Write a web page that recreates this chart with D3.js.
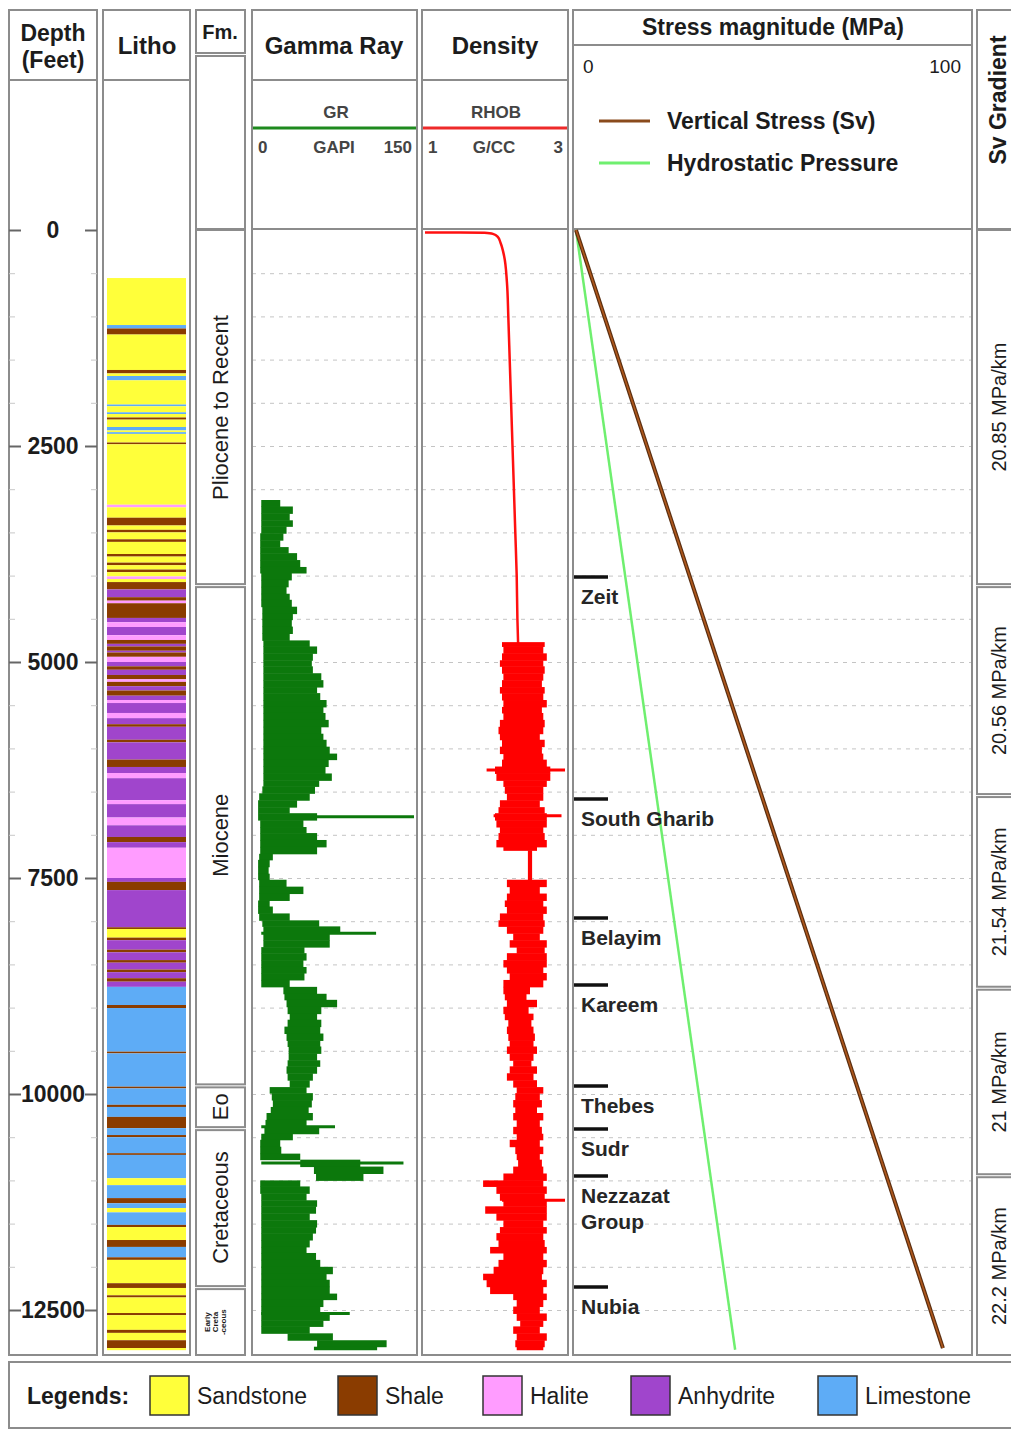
<!DOCTYPE html>
<html>
<head>
<meta charset="utf-8">
<script src="https://cdn.jsdelivr.net/npm/d3@7"></script>
<style>
  body { margin: 0; background: #fff; }
  text { font-family: "Liberation Sans", Arial, sans-serif; fill: #1c1c1c; }
</style>
</head>
<body>
<div id="chart"></div>
<script>
// ---- data ----
const depthTicks = [0, 2500, 5000, 7500, 10000, 12500];
const gridDepths = d3.range(500, 13000, 500);

// lithology intervals [top ft, base ft, type]
const litho = [
  [556,1100,"S"],[1100,1140,"L"],[1140,1210,"Sh"],[1210,1620,"S"],[1620,1660,"Sh"],[1660,1690,"S"],
  [1690,1740,"L"],[1740,2020,"S"],[2020,2040,"L"],[2040,2110,"S"],[2110,2130,"L"],[2130,2170,"S"],
  [2170,2195,"Sh"],[2195,2280,"S"],[2280,2320,"L"],[2320,2340,"S"],[2340,2360,"L"],[2360,2460,"S"],
  [2460,2480,"Sh"],[2480,3180,"S"],[3180,3210,"H"],[3210,3330,"S"],[3330,3420,"Sh"],[3420,3470,"S"],
  [3470,3500,"Sh"],[3500,3580,"S"],[3580,3610,"Sh"],[3610,3750,"S"],[3750,3780,"Sh"],[3780,3850,"S"],
  [3850,3880,"Sh"],[3880,3930,"S"],[3930,3960,"Sh"],[3960,4010,"S"],[4010,4040,"H"],[4040,4075,"S"],
  [4075,4160,"Sh"],[4160,4250,"A"],[4250,4290,"Sh"],[4290,4320,"H"],[4320,4490,"Sh"],[4490,4540,"A"],
  [4540,4595,"H"],[4595,4690,"A"],[4690,4745,"H"],[4745,4790,"Sh"],[4790,4820,"A"],[4820,4870,"Sh"],
  [4870,4890,"A"],[4890,4940,"Sh"],[4940,5000,"H"],[5000,5050,"A"],[5050,5090,"Sh"],[5090,5150,"A"],
  [5150,5200,"Sh"],[5200,5230,"H"],[5230,5280,"Sh"],[5280,5330,"A"],[5330,5390,"Sh"],[5390,5440,"A"],
  [5440,5475,"H"],[5475,5590,"A"],[5590,5650,"H"],[5650,5720,"A"],[5720,5750,"Sh"],[5750,5900,"A"],
  [5900,5930,"Sh"],[5930,6130,"A"],[6130,6215,"Sh"],[6215,6285,"A"],[6285,6345,"H"],[6345,6600,"A"],
  [6600,6645,"H"],[6645,6800,"A"],[6800,6890,"H"],[6890,7025,"A"],[7025,7085,"Sh"],[7085,7150,"A"],
  [7150,7500,"H"],[7500,7545,"A"],[7545,7640,"Sh"],[7640,8070,"A"],[8070,8090,"Sh"],[8090,8190,"S"],
  [8190,8220,"Sh"],[8220,8330,"A"],[8330,8360,"Sh"],[8360,8450,"A"],[8450,8480,"Sh"],[8480,8560,"A"],
  [8560,8590,"Sh"],[8590,8660,"A"],[8660,8700,"Sh"],[8700,8760,"A"],[8760,8970,"L"],[8970,9005,"Sh"],
  [9005,9510,"L"],[9510,9530,"Sh"],[9530,9915,"L"],[9915,9935,"Sh"],[9935,10125,"L"],[10125,10150,"Sh"],
  [10150,10265,"L"],[10265,10395,"Sh"],[10395,10475,"L"],[10475,10500,"Sh"],[10500,10685,"L"],
  [10685,10705,"Sh"],[10705,10975,"L"],[10975,11055,"S"],[11055,11205,"L"],[11205,11265,"Sh"],
  [11265,11320,"L"],[11320,11370,"S"],[11370,11515,"L"],[11515,11540,"Sh"],[11540,11690,"S"],
  [11690,11770,"Sh"],[11770,11890,"L"],[11890,11920,"Sh"],[11920,12190,"S"],[12190,12245,"Sh"],
  [12245,12330,"S"],[12330,12355,"Sh"],[12355,12535,"S"],[12535,12560,"Sh"],[12560,12730,"S"],
  [12730,12765,"Sh"],[12765,12850,"S"],[12850,12940,"Sh"],[12940,12965,"S"]
];
const lithoTypes = ["S", "Sh", "H", "A", "L"];
const lithoNames = ["Sandstone", "Shale", "Halite", "Anhydrite", "Limestone"];
const lithoColors = ["#ffff3a", "#8a3c00", "#ff9cff", "#a045cc", "#5eacf6"];

// formations (age column)
const fmNames = ["Pliocene to Recent", "Miocene", "Eo", "Cretaceous", "Early Creta -ceous"];
const fmTops = [0, 4110, 9900, 10395, 12235];
const fmBases = [4110, 9900, 10395, 12235, 13000];

// formation tops in the stress track
const topNames = ["Zeit", "South Gharib", "Belayim", "Kareem", "Thebes", "Sudr", "Nezzazat Group", "Nubia"];
const topDepths = [4016, 6586, 7963, 8738, 9907, 10405, 10949, 12234];

// Sv gradient zones
const gradLabels = ["20.85 MPa/km", "20.56 MPa/km", "21.54 MPa/km", "21 MPa/km", "22.2 MPa/km"];
const gradTops = [0, 4110, 6540, 8770, 10940];
const gradBases = [4110, 6540, 8770, 10940, 13000];

// gamma ray envelope [depth, min GAPI, max GAPI]
const grLog = [
  [3125,5,23],[3200,5,35],[3280,5,32],[3360,5,35],[3430,5,29],[3510,4,26],[3590,4,23],[3670,4,31],
  [3740,4,39],[3820,4,42],[3900,4,48],[3970,5,34],[4050,5,31],[4130,5,29],[4210,5,32],[4280,5,34],
  [4360,6,39],[4440,6,35],[4510,6,34],[4590,6,35],[4670,6,32],[4750,7,51],[4820,7,58],[4900,7,54],
  [4980,7,53],[5050,7,54],[5130,7,62],[5210,7,64],[5290,7,58],[5360,7,61],[5440,7,67],[5520,7,64],
  [5590,7,66],[5670,7,69],[5750,7,62],[5830,7,64],[5900,7,67],[5980,7,70],[6060,7,77],[6130,7,69],
  [6210,7,66],[6290,7,72],[6370,7,60],[6440,6,56],[6520,3,51],[6600,2,39],[6680,2,32],[6750,2,58],
  [6830,4,45],[6910,4,48],[6980,4,58],[7060,4,67],[7140,4,58],[7220,3,16],[7290,2,13],[7370,2,12],
  [7450,2,13],[7520,3,29],[7600,3,45],[7680,3,32],[7760,2,13],[7830,2,16],[7910,3,32],[7990,6,60],
  [8060,7,80],[8140,7,70],[8220,7,70],[8300,5,46],[8370,5,48],[8450,5,45],[8530,5,48],[8600,5,46],
  [8680,5,32],[8760,26,58],[8840,27,67],[8910,29,77],[8990,30,62],[9070,32,58],[9140,30,62],
  [9220,27,61],[9300,29,64],[9380,30,61],[9450,31,62],[9530,31,58],[9610,30,61],[9680,29,58],
  [9760,30,54],[9840,32,51],[9920,13,48],[9990,15,54],[10070,16,53],[10150,14,50],[10220,10,54],
  [10300,9,48],[10380,8,60],[10460,5,35],[10530,4,23],[10610,4,24],[10690,4,42],[10760,42,99],
  [10840,55,121],[10920,57,102],[11000,4,42],[11070,4,51],[11150,5,48],[11230,5,58],[11300,5,57],
  [11380,5,51],[11460,5,58],[11540,5,57],[11610,5,54],[11690,5,51],[11770,5,48],[11840,5,57],
  [11920,5,61],[12000,5,73],[12080,5,67],[12150,5,70],[12230,5,70],[12310,5,77],[12380,5,64],
  [12460,5,61],[12540,5,70],[12620,5,64],[12690,5,51],[12770,30,73],[12850,58,124],[12925,55,115],
  [12960,55,115]
];
// isolated gamma ray spikes [depth, GAPI]
const grSpikes = [[6790,150],[8140,114],[10380,75],[10800,140],[12540,89]];

// bulk density: shallow trend [depth, g/cc]
const rhobTrend = [
  [30,1.0],[30,1.5],[32,1.85],[45,1.97],[80,2.04],[150,2.08],[300,2.13],[600,2.17],[1000,2.19],
  [1500,2.21],[2000,2.23],[2500,2.25],[3000,2.27],[3500,2.29],[4000,2.31],[4500,2.32],[4780,2.33]
];
// bulk density envelope [depth, min, max]
const rhobLog = [
  [4770,2.10,2.71],[4820,2.12,2.69],[4900,2.10,2.74],[4980,2.07,2.69],[5050,2.10,2.71],[5130,2.12,2.69],
  [5210,2.10,2.67],[5290,2.07,2.71],[5360,2.10,2.69],[5440,2.12,2.74],[5520,2.10,2.67],[5590,2.12,2.69],
  [5670,2.07,2.71],[5750,2.05,2.69],[5830,2.07,2.64],[5900,2.10,2.71],[5980,2.07,2.67],[6060,2.12,2.69],
  [6130,2.10,2.74],[6210,2.00,2.79],[6290,2.02,2.79],[6370,2.12,2.74],[6440,2.14,2.69],[6520,2.17,2.69],
  [6600,2.07,2.64],[6680,2.05,2.71],[6750,2.00,2.74],[6830,2.02,2.74],[6910,2.07,2.69],[6980,2.05,2.71],
  [7060,2.02,2.74],[7140,2.12,2.60],[7180,2.47,2.53],[7520,2.17,2.74],[7600,2.21,2.64],[7680,2.17,2.74],
  [7760,2.14,2.69],[7830,2.17,2.74],[7910,2.07,2.69],[7990,2.05,2.71],[8060,2.17,2.69],[8140,2.26,2.64],
  [8220,2.21,2.74],[8300,2.31,2.71],[8370,2.17,2.74],[8450,2.12,2.74],[8530,2.17,2.69],[8600,2.21,2.74],
  [8680,2.12,2.69],[8760,2.12,2.50],[8840,2.14,2.45],[8910,2.17,2.60],[8990,2.12,2.48],[9070,2.14,2.55],
  [9140,2.19,2.52],[9220,2.17,2.55],[9300,2.19,2.57],[9380,2.21,2.55],[9450,2.17,2.60],[9530,2.21,2.55],
  [9610,2.26,2.52],[9680,2.21,2.60],[9760,2.17,2.55],[9840,2.26,2.60],[9920,2.31,2.69],[9990,2.29,2.64],
  [10070,2.26,2.67],[10150,2.29,2.60],[10220,2.26,2.69],[10300,2.31,2.64],[10380,2.26,2.67],[10460,2.31,2.69],
  [10530,2.21,2.64],[10610,2.29,2.69],[10690,2.31,2.64],[10760,2.33,2.67],[10840,2.26,2.69],[10920,2.12,2.74],
  [11000,1.83,2.69],[11070,2.02,2.74],[11150,2.07,2.71],[11230,2.12,2.74],[11300,1.86,2.74],[11380,2.02,2.74],
  [11460,2.12,2.69],[11540,2.07,2.74],[11610,2.02,2.69],[11690,2.05,2.71],[11770,1.93,2.74],[11840,2.12,2.69],
  [11920,2.05,2.74],[12000,1.98,2.69],[12080,1.83,2.67],[12150,1.88,2.74],[12230,1.93,2.69],[12310,2.26,2.74],
  [12380,2.31,2.69],[12460,2.26,2.64],[12540,2.31,2.74],[12620,2.36,2.69],[12690,2.26,2.64],[12770,2.31,2.74],
  [12850,2.29,2.71],[12925,2.31,2.69],[12960,2.31,2.69]
];
const rhobSpikes = [[6250,1.88,3.0],[6780,1.98,2.95],[11230,2.10,3.0]];

// stress profiles [depth ft, MPa]
const svLine = [[0,0],[12940,93.6]];
const hydroLine = [[0,0],[12960,40.6]];

// ---- layout ----
const W = 1011, H = 1431;
const topY = 10, plotTop = 229, plotBottom = 1355;
const col = {
  depth: [9, 97], litho: [103, 190], fm: [196, 245], gr: [252, 417],
  rhob: [422, 568], stress: [573, 972], grad: [977, 1020]
};

const svg = d3.select("#chart").append("svg")
  .attr("width", W).attr("height", H);

const y = d3.scaleLinear().domain([0, 13000]).range([230, 1353.2]);
const xGR = d3.scaleLinear().domain([0, 150]).range([256, 414]);
const xRhob = d3.scaleLinear().domain([1, 3]).range([425, 565]);
const xStress = d3.scaleLinear().domain([0, 100]).range([576, 968]);
const lithoColor = d3.scaleOrdinal().domain(lithoTypes).range(lithoColors);

function box(x0, y0, x1, y1) {
  svg.append("rect")
    .attr("x", x0).attr("y", y0)
    .attr("width", x1 - x0).attr("height", y1 - y0)
    .attr("fill", "none").attr("stroke", "#8c8c8c").attr("stroke-width", 2);
}

// gridlines (dashed, every 500 ft) in the curve tracks
[col.gr, col.rhob, col.stress].forEach(c => {
  const g = svg.append("g")
    .attr("transform", "translate(" + c[0] + ",0)")
    .call(d3.axisRight(y).tickValues(gridDepths).tickSize(c[1] - c[0]).tickFormat(""));
  g.select(".domain").remove();
  g.selectAll("line").attr("stroke", "#c4c4c4").attr("stroke-dasharray", "4,5");
});

// ---- depth column ----
box(col.depth[0], topY, col.depth[1], 80);
box(col.depth[0], 80, col.depth[1], plotBottom);
svg.append("text").attr("x", 53).attr("y", 41).attr("text-anchor", "middle")
  .style("font-size", "23px").style("font-weight", "bold").text("Depth");
svg.append("text").attr("x", 53).attr("y", 68).attr("text-anchor", "middle")
  .style("font-size", "23px").style("font-weight", "bold").text("(Feet)");

[[col.depth[0], d3.axisRight], [col.depth[1], d3.axisLeft]].forEach(([x0, ax]) => {
  const minor = svg.append("g").attr("transform", "translate(" + x0 + ",0)")
    .call(ax(y).tickValues(gridDepths).tickSize(6).tickFormat(""));
  minor.select(".domain").remove();
  minor.selectAll("line").attr("stroke", "#c8c8c8");
  const major = svg.append("g").attr("transform", "translate(" + x0 + ",0)")
    .call(ax(y).tickValues(depthTicks).tickSize(12).tickFormat(""));
  major.select(".domain").remove();
  major.selectAll("line").attr("stroke", "#666").attr("stroke-width", 2);
});
svg.append("g").selectAll("text").data(depthTicks).join("text")
  .attr("x", 53).attr("y", d => y(d)).attr("dy", "0.36em")
  .attr("text-anchor", "middle")
  .style("font-size", "23px").style("font-weight", "bold")
  .text(d => d);

// ---- litho column ----
box(col.litho[0], topY, col.litho[1], 80);
box(col.litho[0], 80, col.litho[1], plotBottom);
svg.append("text").attr("x", 147).attr("y", 54).attr("text-anchor", "middle")
  .style("font-size", "24px").style("font-weight", "bold").text("Litho");
svg.append("g").selectAll("rect").data(litho).join("rect")
  .attr("x", 107).attr("width", 79)
  .attr("y", d => y(d[0])).attr("height", d => y(d[1]) - y(d[0]))
  .attr("fill", d => lithoColor(d[2]));

// ---- formation column ----
box(col.fm[0], topY, col.fm[1], 53);
box(col.fm[0], 56, col.fm[1], plotTop);
svg.append("text").attr("x", 220).attr("y", 39).attr("text-anchor", "middle")
  .style("font-size", "20px").style("font-weight", "bold").text("Fm.");
fmNames.forEach((name, i) => {
  const last = i === fmNames.length - 1;
  const y0 = y(fmTops[i]) + (i === 0 ? 0 : 2);
  const y1 = last ? plotBottom : y(fmBases[i]) - 1;
  box(col.fm[0], y0, col.fm[1], y1);
  const cy = (y(fmTops[i]) + y(fmBases[i])) / 2;
  if (!last) {
    svg.append("text")
      .attr("transform", "translate(228," + cy + ") rotate(-90)")
      .attr("text-anchor", "middle")
      .style("font-size", "22px").text(name);
  } else {
    name.split(" ").forEach((p, k) => {
      svg.append("text")
        .attr("transform", "translate(" + (210 + k * 8) + "," + (cy + 2) + ") rotate(-90)")
        .attr("text-anchor", "middle")
        .style("font-size", "8px").style("font-weight", "bold").text(p);
    });
  }
});

// ---- gamma ray track ----
box(col.gr[0], topY, col.gr[1], 80);
box(col.gr[0], 80, col.gr[1], plotTop);
box(col.gr[0], plotTop, col.gr[1], plotBottom);
svg.append("text").attr("x", 334).attr("y", 54).attr("text-anchor", "middle")
  .style("font-size", "24px").style("font-weight", "bold").text("Gamma Ray");
svg.append("text").attr("x", 336).attr("y", 118).attr("text-anchor", "middle")
  .style("font-size", "17px").style("font-weight", "bold").style("fill", "#444").text("GR");
svg.append("line").attr("x1", col.gr[0] + 1).attr("x2", col.gr[1] - 1)
  .attr("y1", 128).attr("y2", 128).attr("stroke", "#1e8a1e").attr("stroke-width", 3);
[["0", 258, "start"], ["GAPI", 334, "middle"], ["150", 412, "end"]].forEach(t => {
  svg.append("text").attr("x", t[1]).attr("y", 153).attr("text-anchor", t[2])
    .style("font-size", "17px").style("font-weight", "bold").style("fill", "#444").text(t[0]);
});
const grPairs = d3.pairs(grLog);
svg.append("g").selectAll("rect").data(grPairs).join("rect")
  .attr("x", d => xGR(d[0][1]))
  .attr("width", d => xGR(d[0][2]) - xGR(d[0][1]))
  .attr("y", d => y(d[0][0]))
  .attr("height", d => y(d[1][0]) - y(d[0][0]) + 0.5)
  .attr("fill", "#0c780c");
svg.append("g").selectAll("line").data(grSpikes).join("line")
  .attr("x1", xGR(5)).attr("x2", d => xGR(d[1]))
  .attr("y1", d => y(d[0])).attr("y2", d => y(d[0]))
  .attr("stroke", "#0c780c").attr("stroke-width", 3);

// ---- density track ----
box(col.rhob[0], topY, col.rhob[1], 80);
box(col.rhob[0], 80, col.rhob[1], plotTop);
box(col.rhob[0], plotTop, col.rhob[1], plotBottom);
svg.append("text").attr("x", 495).attr("y", 54).attr("text-anchor", "middle")
  .style("font-size", "24px").style("font-weight", "bold").text("Density");
svg.append("text").attr("x", 496).attr("y", 118).attr("text-anchor", "middle")
  .style("font-size", "17px").style("font-weight", "bold").style("fill", "#444").text("RHOB");
svg.append("line").attr("x1", col.rhob[0] + 1).attr("x2", col.rhob[1] - 1)
  .attr("y1", 128).attr("y2", 128).attr("stroke", "#ee2a2a").attr("stroke-width", 3);
[["1", 428, "start"], ["G/CC", 494, "middle"], ["3", 563, "end"]].forEach(t => {
  svg.append("text").attr("x", t[1]).attr("y", 153).attr("text-anchor", t[2])
    .style("font-size", "17px").style("font-weight", "bold").style("fill", "#444").text(t[0]);
});
svg.append("path").datum(rhobTrend)
  .attr("d", d3.line().x(d => xRhob(d[1])).y(d => y(d[0])).curve(d3.curveMonotoneY))
  .attr("fill", "none").attr("stroke", "#ff1010").attr("stroke-width", 2.5);
const rhobPairs = d3.pairs(rhobLog);
svg.append("g").selectAll("rect").data(rhobPairs).join("rect")
  .attr("x", d => xRhob(d[0][1]))
  .attr("width", d => xRhob(d[0][2]) - xRhob(d[0][1]))
  .attr("y", d => y(d[0][0]))
  .attr("height", d => y(d[1][0]) - y(d[0][0]) + 0.5)
  .attr("fill", "#ff0000");
svg.append("g").selectAll("line").data(rhobSpikes).join("line")
  .attr("x1", d => xRhob(d[1])).attr("x2", d => xRhob(d[2]))
  .attr("y1", d => y(d[0])).attr("y2", d => y(d[0]))
  .attr("stroke", "#ff0000").attr("stroke-width", 3);

// ---- stress track ----
box(col.stress[0], topY, col.stress[1], 45);
box(col.stress[0], 45, col.stress[1], plotTop);
box(col.stress[0], plotTop, col.stress[1], plotBottom);
svg.append("text").attr("x", 773).attr("y", 35).attr("text-anchor", "middle")
  .style("font-size", "23px").style("font-weight", "bold").text("Stress magnitude (MPa)");
svg.append("text").attr("x", 583).attr("y", 73).style("font-size", "19px").text("0");
svg.append("text").attr("x", 961).attr("y", 73).attr("text-anchor", "end").style("font-size", "19px").text("100");
const stressKeys = [["Vertical Stress (Sv)", "#8a4a1c", 121], ["Hydrostatic Pressure", "#6fef6f", 163]];
stressKeys.forEach(k => {
  svg.append("line").attr("x1", 599).attr("x2", 650).attr("y1", k[2]).attr("y2", k[2])
    .attr("stroke", k[1]).attr("stroke-width", 3);
  svg.append("text").attr("x", 667).attr("y", k[2]).attr("dy", "0.36em")
    .style("font-size", "23px").style("font-weight", "bold").text(k[0]);
});
const stressLine = d3.line().x(d => xStress(d[1])).y(d => y(d[0]));
svg.append("path").datum(hydroLine).attr("d", stressLine)
  .attr("fill", "none").attr("stroke", "#6fef6f").attr("stroke-width", 2.5);
svg.append("path").datum(svLine).attr("d", stressLine)
  .attr("fill", "none").attr("stroke", "#5a2e10").attr("stroke-width", 4);
svg.append("path").datum(svLine).attr("d", stressLine)
  .attr("fill", "none").attr("stroke", "#b0581c").attr("stroke-width", 1.6);

// formation tops
topNames.forEach((name, i) => {
  const ty = y(topDepths[i]);
  svg.append("line").attr("x1", col.stress[0] + 1).attr("x2", 608)
    .attr("y1", ty).attr("y2", ty).attr("stroke", "#111").attr("stroke-width", 3.5);
  const lines = name === "Nezzazat Group" ? ["Nezzazat", "Group"] : [name];
  lines.forEach((ln, k) => {
    svg.append("text").attr("x", 581).attr("y", ty + 27 + k * 26)
      .style("font-size", "21px").style("font-weight", "bold").style("fill", "#262626").text(ln);
  });
});

// ---- Sv gradient column ----
box(col.grad[0], topY, col.grad[1], plotTop);
svg.append("text").attr("transform", "translate(1006,100) rotate(-90)")
  .attr("text-anchor", "middle")
  .style("font-size", "23px").style("font-weight", "bold").text("Sv Gradient");
gradLabels.forEach((lab, i) => {
  const y0 = y(gradTops[i]) + (i === 0 ? 0 : 2);
  const y1 = i === gradLabels.length - 1 ? plotBottom : y(gradBases[i]) - 1;
  box(col.grad[0], y0, col.grad[1], y1);
  svg.append("text")
    .attr("transform", "translate(1006," + (y0 + y1) / 2 + ") rotate(-90)")
    .attr("text-anchor", "middle")
    .style("font-size", "20px").text(lab);
});

// ---- lithology legend ----
box(9, 1362, 1020, 1428);
svg.append("text").attr("x", 27).attr("y", 1396).attr("dy", "0.36em")
  .style("font-size", "23px").style("font-weight", "bold").text("Legends:");
const legX = [150, 338, 483, 631, 818];
lithoNames.forEach((n, i) => {
  svg.append("rect").attr("x", legX[i]).attr("y", 1376).attr("width", 39).attr("height", 39)
    .attr("fill", lithoColors[i]).attr("stroke", "#333").attr("stroke-width", 1.5);
  svg.append("text").attr("x", legX[i] + 47).attr("y", 1396).attr("dy", "0.36em")
    .style("font-size", "23px").text(n);
});
</script>
</body>
</html>
